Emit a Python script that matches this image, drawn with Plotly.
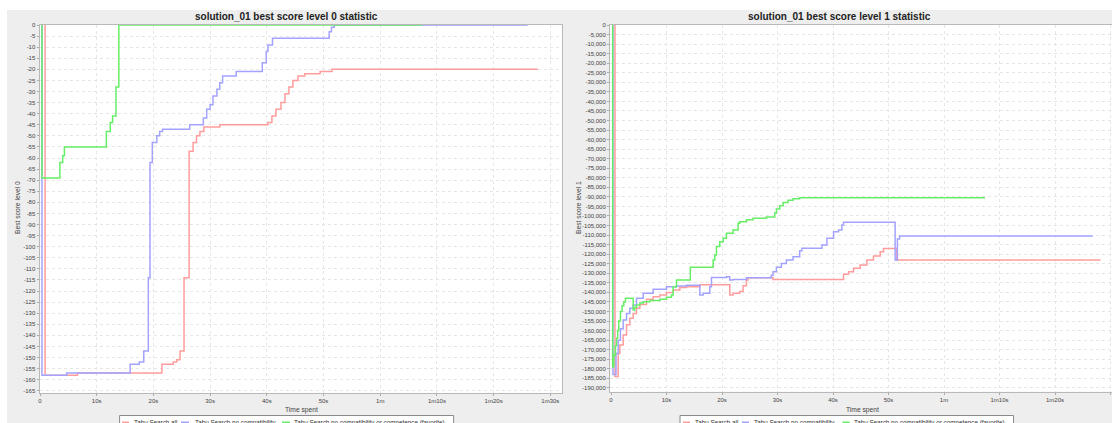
import plotly.graph_objects as go

# ---------------- data ----------------
SERIES_NAMES = ["Tabu Search all", "Tabu Search no compatibility",
                "Tabu Search no compatibility or competence (favorite)"]
SERIES_COLORS = ["#ff9c9c", "#a3a3ff", "#66ee66"]

# Level 0 (hard) best score, time in seconds
L0_ALL_T = [0.9, 0.9, 6.6, 21.5, 23.5, 24.1, 24.7, 25.4, 26.3, 27.0, 27.6, 28.2, 28.9, 31.7,
            40.2, 40.9, 41.6, 42.5, 43.2, 43.9, 44.6, 45.5, 46.7, 49.4, 51.5, 87.8]
L0_ALL_S = [0, -158, -157, -153, -152, -151, -147, -114, -57, -53, -50, -48, -46, -45,
            -44, -41, -38, -35, -31, -28, -25, -23, -22, -21, -20, -20]

L0_NOCOMP_T = [0.35, 0.35, 4.7, 15.9, 17.5, 18.3, 19.1, 19.4, 19.8, 20.6, 21.1, 21.6, 26.4, 28.8,
               29.4, 30.0, 30.5, 31.2, 31.7, 32.2, 34.6, 39.2, 39.9, 40.2, 41.0, 51.0, 51.4, 51.9, 86.0]
L0_NOCOMP_S = [0, -158, -157, -153, -152, -147, -114, -62, -53, -50, -48, -47, -45, -42,
               -38, -36, -32, -29, -26, -23, -21, -17, -12, -9, -6, -3, -1, 0, 0]

L0_FAV_T = [0.35, 0.35, 3.5, 4.0, 4.3, 11.7, 12.4, 12.8, 13.4, 13.9, 67.4]
L0_FAV_S = [0, -69, -62, -59, -55, -48, -44, -41, -28, 0, 0]

# Level 1 (soft) best score
L1_ALL_T = [0.72, 0.72, 1.3, 1.6, 2.2, 2.8, 3.4, 4.0, 4.6, 5.2, 6.4, 7.6, 8.8, 10.0, 11.2, 12.4,
            13.6, 16.0, 21.4, 22.0, 23.2, 23.8, 24.4, 24.7, 29.2, 41.9, 42.8, 43.7, 44.9, 46.1,
            47.3, 48.5, 49.1, 51.5, 88.2]
L1_ALL_S = [0, -184000, -172000, -167500, -162300, -157000, -153500, -151000, -148300, -146300,
            -143600, -142300, -141400, -140000, -138700, -137500, -137000, -136000, -141400,
            -140500, -139600, -136500, -133500, -132300, -133200, -130500, -129200, -127400,
            -125700, -123000, -121000, -118700, -117000, -123000, -123000]

L1_NOCOMP_T = [0.36, 0.36, 0.9, 1.3, 1.7, 2.2, 2.8, 3.4, 4.0, 4.6, 5.8, 7.6, 10.0, 11.8, 13.6,
               16.0, 16.6, 17.8, 18.1, 20.8, 21.4, 22.0, 24.4, 28.6, 28.9, 29.2, 29.8, 30.7,
               31.6, 32.8, 34.0, 34.4, 37.7, 38.0, 38.9, 40.1, 41.0, 41.6, 41.9, 51.2, 51.6,
               52.0, 86.8]
L1_NOCOMP_S = [0, -183000, -172000, -165000, -159000, -154400, -151000, -148300, -146600,
               -143100, -140500, -138400, -137000, -136600, -136300, -141400, -140500, -137000,
               -132200, -131800, -133500, -133200, -132300, -132200, -131000, -129200, -126900,
               -124900, -123000, -121400, -118200, -116900, -116900, -115200, -111700, -108200,
               -107300, -104700, -103300, -123000, -112000, -110500, -110500]

L1_FAV_T = [0.30, 0.30, 0.5, 0.8, 1.0, 1.2, 1.4, 1.7, 2.0, 2.3, 2.6, 4.0, 4.3, 4.6, 5.2, 5.8,
            7.0, 8.8, 10.0, 10.9, 11.2, 11.8, 14.3, 18.4, 18.7, 19.0, 19.6, 20.2, 20.8, 22.0,
            22.9, 23.2, 24.4, 25.6, 28.0, 29.5, 29.8, 30.4, 31.0, 31.9, 32.8, 34.0, 35.9, 67.4]
L1_FAV_S = [0, -179000, -172800, -168000, -164000, -160000, -155000, -150000, -147000, -145000,
            -143100, -149200, -147800, -146600, -145500, -144900, -144300, -143600, -142500,
            -141400, -137000, -133500, -126900, -123000, -120400, -116000, -113500, -111700,
            -109000, -107300, -103800, -103000, -102000, -101200, -100500, -98500, -96400,
            -94600, -92900, -91800, -91000, -90500, -90400, -90400]

X_TICK_VALS = [0, 10, 20, 30, 40, 50, 60, 70, 80, 90]
X_TICK_TEXT = ["0", "10s", "20s", "30s", "40s", "50s", "1m", "1m10s", "1m20s", "1m30s"]
Y0_TICK_VALS = list(range(0, -166, -5))
Y0_TICK_TEXT = [str(v) for v in Y0_TICK_VALS]
Y1_TICK_VALS = list(range(0, -190001, -5000))
Y1_TICK_TEXT = ["{:,}".format(v) for v in Y1_TICK_VALS]

TITLES = ["solution_01 best score level 0 statistic", "solution_01 best score level 1 statistic"]
Y_TITLES = ["Best score level 0", "Best score level 1"]
X_TITLE = "Time spent"

# ---------------- figure ----------------
W, H = 1112, 423
FONT = "Liberation Sans, Arial, sans-serif"


def px_x(p):
    return p / W


def px_y(p):
    return 1 - p / H


fig = go.Figure()

left = [(L0_ALL_T, L0_ALL_S), (L0_NOCOMP_T, L0_NOCOMP_S), (L0_FAV_T, L0_FAV_S)]
right = [(L1_ALL_T, L1_ALL_S), (L1_NOCOMP_T, L1_NOCOMP_S), (L1_FAV_T, L1_FAV_S)]

for i, (t, s) in enumerate(left):
    fig.add_trace(go.Scatter(x=t, y=s, mode="lines",
                             line=dict(color=SERIES_COLORS[i], width=1.5, shape="hv"),
                             name=SERIES_NAMES[i], xaxis="x", yaxis="y", showlegend=False))
for i, (t, s) in enumerate(right):
    fig.add_trace(go.Scatter(x=t, y=s, mode="lines",
                             line=dict(color=SERIES_COLORS[i], width=1.5, shape="hv"),
                             name=SERIES_NAMES[i], xaxis="x2", yaxis="y2", showlegend=False))

tickfont = dict(family=FONT, size=6, color="#444444")
grid = dict(showgrid=True, gridcolor="#e6e6e6", griddash="dot", gridwidth=1, zeroline=False,
            showline=True, linecolor="#b8b8b8", linewidth=1, mirror=True, ticks="outside",
            ticklen=2, tickcolor="#aaaaaa", automargin=False, tickfont=tickfont)

fig.update_layout(
    width=W, height=H,
    margin=dict(l=0, r=0, t=0, b=0),
    paper_bgcolor="#eeeeee", plot_bgcolor="white",
    font=dict(family=FONT),
    showlegend=False,
    xaxis=dict(domain=[px_x(39.5), px_x(562)], range=[-0.09, 92.06], anchor="y",
               tickvals=X_TICK_VALS, ticktext=X_TICK_TEXT, **grid),
    yaxis=dict(domain=[px_y(393), px_y(25)], range=[-166, 0], anchor="x",
               tickvals=Y0_TICK_VALS, ticktext=Y0_TICK_TEXT, **grid),
    xaxis2=dict(domain=[px_x(610), 1.0], range=[-0.18, 90.27], anchor="y2",
                tickvals=X_TICK_VALS, ticktext=X_TICK_TEXT, **grid),
    yaxis2=dict(domain=[px_y(391.7), px_y(25)], range=[-192000, 0], anchor="x2",
                tickvals=Y1_TICK_VALS, ticktext=Y1_TICK_TEXT, **grid),
)

# white page strips outside the chart panels
fig.add_shape(type="rect", xref="paper", yref="paper", x0=0, x1=px_x(7), y0=0, y1=1,
              fillcolor="white", line_width=0, layer="below")
fig.add_shape(type="rect", xref="paper", yref="paper", x0=0, x1=1, y0=px_y(10), y1=1,
              fillcolor="white", line_width=0, layer="below")

# titles
for cx, txt in [(286, TITLES[0]), (839, TITLES[1])]:
    fig.add_annotation(x=px_x(cx), y=px_y(17), xref="paper", yref="paper", text="<b>" + txt + "</b>",
                       showarrow=False, xanchor="center", yanchor="middle",
                       font=dict(family=FONT, size=10, color="#222222"))
# axis titles
for cx, txt in [(17, Y_TITLES[0]), (578, Y_TITLES[1])]:
    fig.add_annotation(x=px_x(cx), y=px_y(208), xref="paper", yref="paper", text=txt, textangle=-90,
                       showarrow=False, xanchor="center", yanchor="middle",
                       font=dict(family=FONT, size=6.7, color="#444444"))
for cx in [301, 862]:
    fig.add_annotation(x=px_x(cx), y=px_y(410), xref="paper", yref="paper", text=X_TITLE,
                       showarrow=False, xanchor="center", yanchor="middle",
                       font=dict(family=FONT, size=6.7, color="#444444"))

# legends (drawn manually, bottom of each panel, partly cut by the page edge as in the reference)
LEGEND_LAYOUT = [
    # box x0, box x1, [(sample x0, sample x1, text x0) per series]
    (119.6, 453.6, [(122, 129, 132), (181, 189, 193), (282, 290, 292)]),
    (680, 1013.5, [(683, 690, 692.5), (742, 749, 752), (842.5, 849.6, 852)]),
]
for bx0, bx1, items in LEGEND_LAYOUT:
    fig.add_shape(type="rect", xref="paper", yref="paper", x0=px_x(bx0), x1=px_x(bx1),
                  y0=px_y(432), y1=px_y(415.5), fillcolor="white",
                  line=dict(color="#8a8a8a", width=1))
    for i, (sx0, sx1, tx) in enumerate(items):
        fig.add_shape(type="line", xref="paper", yref="paper", x0=px_x(sx0), x1=px_x(sx1),
                      y0=px_y(422.5), y1=px_y(422.5), line=dict(color=SERIES_COLORS[i], width=2))
        fig.add_annotation(x=px_x(tx), y=px_y(422.5), xref="paper", yref="paper",
                           text=SERIES_NAMES[i], showarrow=False, xanchor="left", yanchor="middle",
                           font=dict(family=FONT, size=6.3, color="#333333"))

fig.write_html("out.html",
               config={"displayModeBar": False},
               post_script="document.body.style.margin='0';document.body.style.overflow='hidden';")
